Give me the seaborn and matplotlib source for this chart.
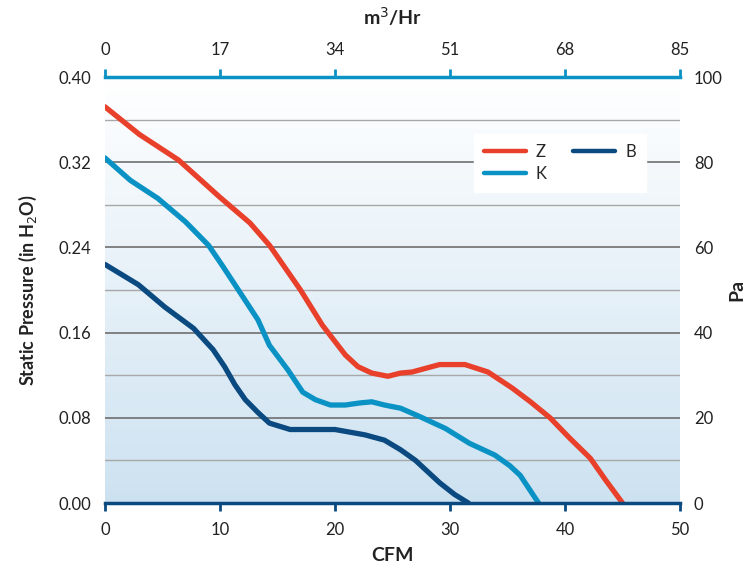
import numpy as np
import pandas as pd
import matplotlib
matplotlib.use('Agg')
import matplotlib.pyplot as plt
import seaborn as sns
from matplotlib.colors import LinearSegmentedColormap

# --- data (CFM vs static pressure in H2O) ---
z_cfm = [0, 3.0, 6.4, 10.0, 12.6, 14.3, 15.2, 17.0, 18.9, 20.9, 22.0, 23.2, 24.6,
         25.7, 26.7, 29.1, 31.3, 33.3, 35.4, 37.0, 38.7, 40.4, 42.2, 43.5, 45.0]
z_sp = [0.372, 0.346, 0.322, 0.287, 0.263, 0.242, 0.228, 0.200, 0.167, 0.139, 0.128,
        0.122, 0.119, 0.122, 0.123, 0.130, 0.130, 0.123, 0.108, 0.095, 0.080, 0.061,
        0.042, 0.022, 0.0]

k_cfm = [0, 2.2, 4.6, 7.0, 9.0, 10.2, 11.6, 13.3, 14.3, 15.9, 17.2, 18.3, 19.6,
         20.9, 22.2, 23.2, 24.3, 25.7, 27.4, 29.6, 31.7, 33.9, 35.2, 36.1, 37.7]
k_sp = [0.324, 0.303, 0.286, 0.264, 0.242, 0.223, 0.200, 0.172, 0.148, 0.125, 0.104,
        0.097, 0.092, 0.092, 0.094, 0.095, 0.092, 0.089, 0.081, 0.070, 0.056, 0.045,
        0.035, 0.026, 0.0]

b_cfm = [0, 2.9, 5.2, 7.7, 9.4, 10.4, 11.3, 12.2, 13.3, 14.3, 16.1, 20.0, 22.6,
         24.3, 25.7, 27.0, 29.1, 30.4, 31.6]
b_sp = [0.224, 0.205, 0.184, 0.164, 0.144, 0.128, 0.111, 0.097, 0.085, 0.075, 0.069,
        0.069, 0.064, 0.059, 0.050, 0.040, 0.019, 0.008, 0.0]

series_names = ['Z', 'K', 'B']
series_colors = ['#e8402a', '#0a92c4', '#0b4a80']

cfm_ticks = [0, 10, 20, 30, 40, 50]
m3hr_ticks = [0, 17, 34, 51, 68, 85]
sp_ticks = [0.00, 0.08, 0.16, 0.24, 0.32, 0.40]
pa_ticks = [0, 20, 40, 60, 80, 100]

df = pd.concat([
    pd.DataFrame({'CFM': z_cfm, 'SP': z_sp, 'fan': 'Z'}),
    pd.DataFrame({'CFM': k_cfm, 'SP': k_sp, 'fan': 'K'}),
    pd.DataFrame({'CFM': b_cfm, 'SP': b_sp, 'fan': 'B'}),
], ignore_index=True)

sns.set_style('white')
plt.rcParams['font.family'] = ['Lato', 'DejaVu Sans']

fig = plt.figure(figsize=(7.52, 5.70), dpi=100)
ax = fig.add_axes([105 / 752, 67 / 570, 575 / 752, 426 / 570])

# gradient background: white at top, light blue at bottom
grad = LinearSegmentedColormap.from_list('bg', ['#ffffff', '#cde2f1'])
ax.imshow(np.linspace(0, 1, 256).reshape(-1, 1), cmap=grad, aspect='auto',
          extent=[0, 50, 0.0, 0.40], origin='upper', zorder=0)

# grid lines
ax.set_yticks(sp_ticks)
ax.set_yticks([0.04, 0.12, 0.20, 0.28, 0.36], minor=True)
ax.grid(True, axis='y', which='major', color='#6e6e6e', linewidth=1.2, zorder=1)
ax.grid(True, axis='y', which='minor', color='#a8a8a8', linewidth=1.0, zorder=1)
ax.set_axisbelow(False)

sns.lineplot(data=df, x='CFM', y='SP', hue='fan', hue_order=series_names,
             palette=series_colors, sort=False, estimator=None, linewidth=3.8,
             ax=ax, zorder=3)
for ln in ax.get_lines():
    ln.set_solid_capstyle('round')

ax.set_xlim(0, 50)
ax.set_ylim(0, 0.40)
ax.set_xticks(cfm_ticks)
ax.set_yticklabels([f'{v:.2f}' for v in sp_ticks])

for s in ['left', 'right', 'top']:
    ax.spines[s].set_visible(False)
ax.spines['bottom'].set_color('#0b4a80')
ax.spines['bottom'].set_linewidth(2.5)
ax.spines['bottom'].set_zorder(4)
ax.tick_params(axis='x', direction='out', length=6, width=2, color='#0b4a80',
               labelsize=12, labelcolor='#222222', pad=8)
ax.tick_params(axis='y', which='both', length=0, labelsize=12, labelcolor='#222222', pad=10)

ax.set_xlabel('CFM', fontsize=14, fontweight='bold', color='#222222', labelpad=6)
ax.set_ylabel('Static Pressure (in H$_2$O)', fontsize=13, fontweight='bold',
              color='#222222', labelpad=14)

# top axis in m3/Hr
axt = ax.twiny()
axt.set_xlim(0, 85)
axt.set_xticks(m3hr_ticks)
for s in ['left', 'right', 'bottom']:
    axt.spines[s].set_visible(False)
axt.spines['top'].set_color('#0a92c4')
axt.spines['top'].set_linewidth(2.5)
axt.tick_params(axis='x', direction='out', length=6, width=2, color='#0a92c4',
                labelsize=12, labelcolor='#222222', pad=8)
axt.set_xlabel('m$^3$/Hr', fontsize=14, fontweight='bold', color='#222222', labelpad=12)

# right axis in Pa
axr = ax.twinx()
axr.set_ylim(0, 100)
axr.set_yticks(pa_ticks)
for s in ['left', 'right', 'bottom', 'top']:
    axr.spines[s].set_visible(False)
axr.tick_params(axis='y', length=0, labelsize=12, labelcolor='#222222', pad=10)
axr.set_ylabel('Pa', fontsize=14, fontweight='bold', color='#222222', labelpad=4)
axr.grid(False)

# legend
handles, labels = ax.get_legend_handles_labels()
ax.legend(handles, labels, ncol=2, loc='upper right', bbox_to_anchor=(0.955, 0.885),
          frameon=True, fancybox=False, framealpha=1, edgecolor='white',
          facecolor='white', fontsize=12, handlelength=2.5, columnspacing=1.6,
          borderpad=0.6, labelspacing=0.35, handletextpad=0.6)
for lh in ax.get_legend().get_lines():
    lh.set_linewidth(3.2)
    lh.set_solid_capstyle('round')

fig.savefig('out.png', dpi=100)
